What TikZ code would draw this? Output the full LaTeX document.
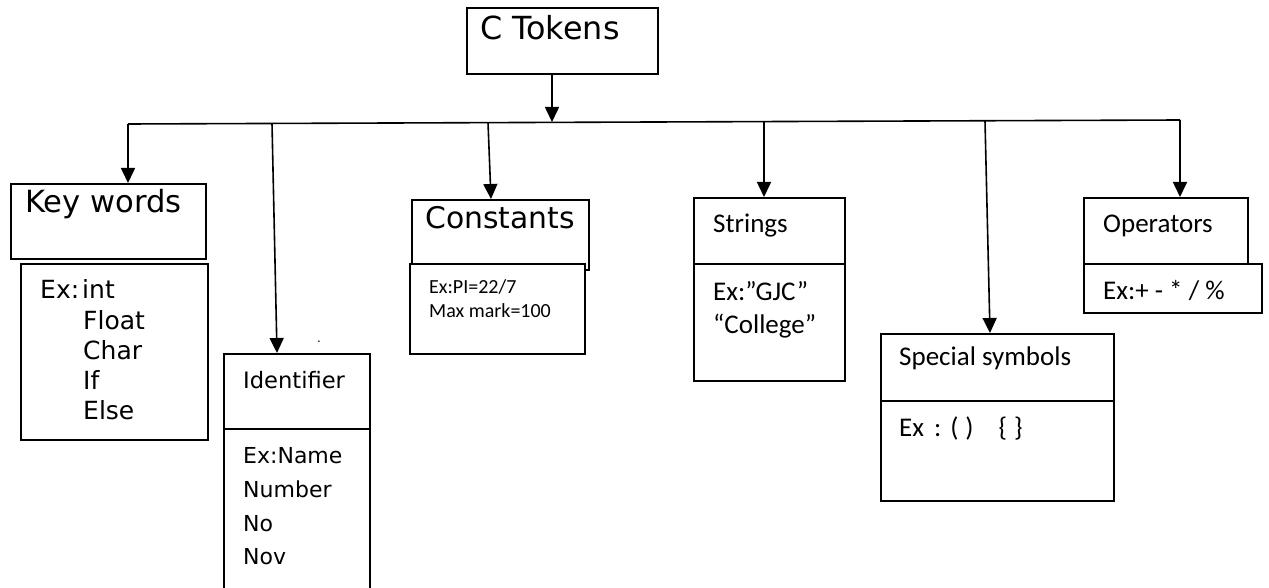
\documentclass[tikz,border=0pt]{standalone}
\usepackage{fontspec}
\setmainfont{DejaVu Sans}
\newfontfamily\carl{Carlito}
\usetikzlibrary{arrows.meta}
\newcommand{\fs}[1]{\fontsize{#1pt}{#1pt}\selectfont}
\begin{document}
\begin{tikzpicture}[x=1pt,y=-1pt,
  box/.style={draw,line width=1.6pt,inner sep=0,anchor=north west,fill=white},
  txt/.style={inner sep=0,anchor=base west},
  conn/.style={line width=1.6pt,-{Triangle[length=15pt,width=14pt]}},
  bar/.style={line width=1.6pt}]
\fill[white] (0,0) rectangle (1269,588);
\useasboundingbox (0,0) rectangle (1269,588);

% boxes
\node[box,minimum width=191pt,minimum height=66pt] (ctok) at (466,7) {};
\node[box,minimum width=195pt,minimum height=75pt] (kw) at (10,183) {};
\node[box,minimum width=187pt,minimum height=176pt] (kwex) at (20,263) {};
\node[box,minimum width=146pt,minimum height=75pt] (idtop) at (223,353) {};
\node[box,minimum width=146pt,minimum height=170pt] (idex) at (223,428) {};
\node[box,minimum width=177pt,minimum height=70pt] (con) at (411,199) {};
\node[box,minimum width=175pt,minimum height=90pt] (conex) at (409,263) {};
\node[box,minimum width=151pt,minimum height=66pt] (str) at (693,197) {};
\node[box,minimum width=151pt,minimum height=117pt] (strex) at (693,263) {};
\node[box,minimum width=233pt,minimum height=67pt] (sp) at (880,333) {};
\node[box,minimum width=233pt,minimum height=100pt] (spex) at (880,400) {};
\node[box,minimum width=164pt,minimum height=66pt] (op) at (1083,197) {};
\node[box,minimum width=178pt,minimum height=49pt] (opex) at (1083,263) {};

% texts
\node[txt,font=\fs{31.8}] (tct) at (480,40) {C Tokens};
\node[txt,font=\fs{30.6}] (tkw) at (25,213) {Key words};
\node[txt,font=\fs{25}] (k1) at (40,298) {Ex:\hspace{3pt}int};
\node[txt,font=\fs{25}] (k2) at (83,329) {Float};
\node[txt,font=\fs{25}] (k3) at (83,359) {Char};
\node[txt,font=\fs{25}] (k4) at (83,389) {If};
\node[txt,font=\fs{25}] (k5) at (83,419) {Else};
\node[txt,font=\fs{22.6}] (tid) at (243,388) {Identifier};
\node[txt,font=\fs{22}] (i1) at (243,463) {Ex:Name};
\node[txt,font=\fs{22}] (i2) at (243,497) {Number};
\node[txt,font=\fs{22}] (i3) at (243,531) {No};
\node[txt,font=\fs{22}] (i4) at (243,564) {Nov};
\node[txt,font=\fs{12}] (dot) at (317,342) {.};
\node[txt,font=\fs{29.8}] (tcon) at (425,229) {Constants};
\node[txt,font=\carl\fs{20}] (c1) at (429,293) {Ex:PI=22/7};
\node[txt,font=\carl\fs{20}] (c2) at (429,317) {Max mark=100};
\node[txt,font=\carl\fs{27}] (tstr) at (713,233) {Strings};
\node[txt,font=\carl\fs{27}] (s1) at (713,300) {Ex:”GJC”};
\node[txt,font=\carl\fs{27}] (s2) at (713,333) {“College”};
\node[txt,font=\carl\fs{27}] (tsp) at (899,365) {Special symbols};
\node[txt,font=\carl\fs{27}] (p1) at (899,436) {Ex\hspace{10pt}:\hspace{9pt}(\hspace{7pt})\hspace{25pt}\{\hspace{7pt}\}};
\node[txt,font=\carl\fs{27}] (top) at (1103,233) {Operators};
\node[txt,font=\carl\fs{27}] (o1) at (1103,299) {Ex:+ - * / \%};

% bus and connectors
\coordinate (busL) at (128,124);
\coordinate (busR) at (1180,120);
\coordinate (bc) at (552,122);
\coordinate (b2) at (272,123.5);
\coordinate (b3) at (488,122.5);
\coordinate (b4) at (764,121.5);
\coordinate (b5) at (985,121);
\coordinate (t2) at (277,0);
\coordinate (t3) at (491,0);
\coordinate (t5) at (990,0);

\draw[bar] (busL) -- (busR);
\draw[conn] (ctok.south -| bc) -- (bc);
\draw[conn] (busL) -- (kw.north -| busL);
\draw[conn] (b2) -- (idtop.north -| t2);
\draw[conn] (b3) -- (con.north -| t3);
\draw[conn] (b4) -- (str.north -| b4);
\draw[conn] (b5) -- (sp.north -| t5);
\draw[conn] (busR) -- (op.north -| busR);
\end{tikzpicture}
\end{document}
